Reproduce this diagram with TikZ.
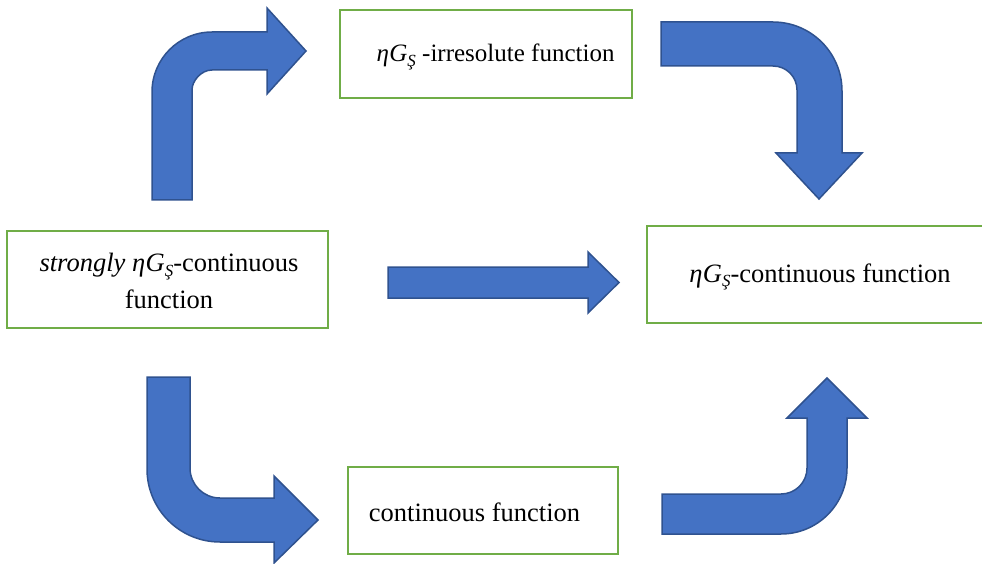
\documentclass[tikz,border=0pt]{standalone}
\usepackage{fontspec}
\setmainfont{Liberation Serif}
\definecolor{boxgreen}{HTML}{70AD47}
\definecolor{arrowfill}{HTML}{4472C4}
\definecolor{arrowline}{HTML}{2F528F}
\newcommand\myetaGS{{\itshape η\kern0.5pt G\raisebox{-0.4ex}{\fontsize{17}{17}\selectfont Ş}}}
\tikzset{
  greenbox/.style={draw=boxgreen, line width=2pt, rectangle, inner sep=0pt},
  blockarrow/.style={fill=arrowfill, draw=arrowline, line width=1.5pt, line join=miter},
  lbl/.style={font=\fontsize{26.5}{37}\selectfont, align=center, inner sep=0pt}
}
\begin{document}
\begin{tikzpicture}[x=1pt,y=-1pt]
\useasboundingbox (0,0) rectangle (982,564);
\clip (0,0) rectangle (982,564);
% boxes
\node[greenbox, minimum width=292pt, minimum height=88pt] (irr) at (486,54) {};
\node[greenbox, minimum width=321pt, minimum height=97pt] (strong) at (167.5,279.5) {};
\node[greenbox, minimum width=343pt, minimum height=97pt] (etac) at (818.5,274.5) {};
\node[greenbox, minimum width=270pt, minimum height=87pt] (cont) at (483,510.5) {};
% labels
\node[lbl, font=\fontsize{25}{30}\selectfont] (irrT) at (495.5,57) {\myetaGS\ -irresolute function};
\node[lbl] (strongT) at (169,281) {\textit{strongly} \myetaGS-continuous\\function};
\node[lbl] (etacT) at (820,277) {\myetaGS-continuous function};
\node[lbl] (contT) at (474.5,512) {continuous function};
% arrow: strong -> irresolute
\draw[blockarrow] (152,200) -- (152,92) .. controls (152,58.9) and (178.9,32) .. (212,32)
  -- (267,32) -- (267,8) -- (306,51) -- (267,94) -- (267,70) -- (212,70)
  .. controls (201,70) and (192,81) .. (192,90) -- (192,200) -- cycle;
% arrow: irresolute -> eta continuous
\draw[blockarrow] (661,22) -- (773,22) .. controls (811.1,22) and (842,52.9) .. (842,91)
  -- (842,153) -- (862,153) -- (819,199) -- (776,153) -- (797,153) -- (797,90)
  .. controls (797,76.7) and (786.3,66) .. (773,66) -- (661,66) -- cycle;
% arrow: strong -> continuous
\draw[blockarrow] (147,377) -- (190,377) -- (190,468) .. controls (190,484.6) and (203.4,498) .. (220,498)
  -- (274,498) -- (274,476) -- (318,520) -- (274,563) -- (274,542) -- (220,542)
  .. controls (179.7,542) and (147,509.3) .. (147,469) -- cycle;
% arrow: continuous -> eta continuous
\draw[blockarrow] (662,494) -- (781,494) .. controls (795.4,494) and (807,482.4) .. (807,468)
  -- (807,418) -- (787,418) -- (827,378) -- (867,418) -- (847,418) -- (847,468)
  .. controls (847,504.5) and (817.5,534) .. (781,534) -- (662,534) -- cycle;
% arrow: strong -> eta continuous (straight)
\draw[blockarrow] (388,267) -- (588,267) -- (588,252) -- (619,282.5) -- (588,313) -- (588,298) -- (388,298) -- cycle;
\end{tikzpicture}
\end{document}
